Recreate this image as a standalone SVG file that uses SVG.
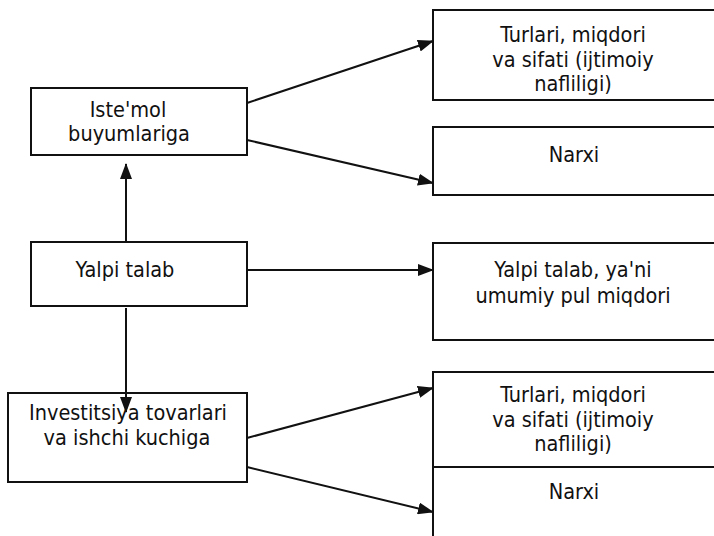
<svg xmlns="http://www.w3.org/2000/svg" width="714" height="536" viewBox="0 0 714 536">
<style>
rect{fill:#fff;stroke:#111;stroke-width:2}
text{font-family:"DejaVu Sans Condensed","Liberation Sans",sans-serif;font-size:21.5px;fill:#111;text-anchor:middle}
.c{stroke:#111;stroke-width:2;fill:none;marker-end:url(#ah)}
</style>
<defs>
<marker id="ah" markerWidth="16" markerHeight="12" refX="15" refY="6" orient="auto" markerUnits="userSpaceOnUse" viewBox="0 0 16 12"><path d="M0,0 L16,6 L0,12 z" fill="#111"/></marker>
</defs>
<g id="n1"><rect x="433" y="10" width="290" height="90"/><text x="573" y="42">Turlari, miqdori</text><text x="573" y="67">va sifati (ijtimoiy</text><text x="573" y="91">nafliligi)</text></g>
<g id="n2"><rect x="31" y="88" width="216" height="67"/><text x="128" y="117">Iste'mol</text><text x="129" y="141">buyumlariga</text></g>
<g id="n3"><rect x="433" y="127" width="290" height="68"/><text x="574" y="162">Narxi</text></g>
<g id="n4"><rect x="31" y="242" width="216" height="64"/><text x="125" y="277">Yalpi talab</text></g>
<g id="n5"><rect x="433" y="243" width="290" height="97"/><text x="573" y="277">Yalpi talab, ya'ni</text><text x="573" y="303">umumiy pul miqdori</text></g>
<g id="n6"><rect x="8" y="393" width="239" height="89"/><text x="128" y="420">Investitsiya tovarlari</text><text x="127" y="445">va ishchi kuchiga</text></g>
<g id="n7"><rect x="433" y="372" width="290" height="95"/><text x="573" y="402">Turlari, miqdori</text><text x="573" y="427">va sifati (ijtimoiy</text><text x="573" y="451">nafliligi)</text></g>
<g id="n8"><rect x="433" y="467" width="290" height="80"/><text x="574" y="499">Narxi</text></g>
<g id="connectors">
<line class="c" x1="247" y1="103" x2="433" y2="41"/>
<line class="c" x1="247" y1="140" x2="433" y2="183"/>
<line class="c" x1="126" y1="242" x2="126" y2="164"/>
<line class="c" x1="247" y1="270" x2="433" y2="270"/>
<line class="c" x1="126" y1="308" x2="126" y2="412"/>
<line class="c" x1="247" y1="438" x2="433" y2="388"/>
<line class="c" x1="247" y1="467" x2="433" y2="512"/>
</g>
</svg>
